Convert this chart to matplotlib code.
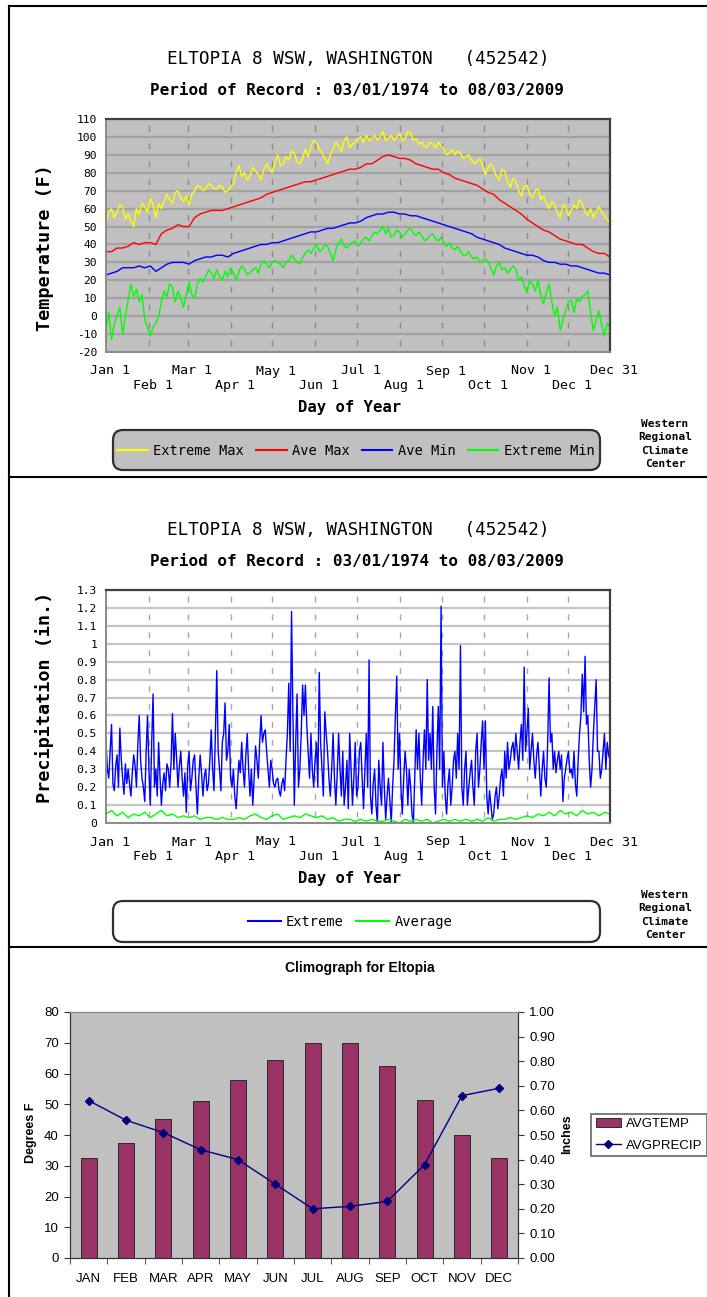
import numpy as np
import matplotlib
matplotlib.use("Agg")
import matplotlib.pyplot as plt
import matplotlib.transforms as mtransforms
from matplotlib.lines import Line2D
from matplotlib.patches import FancyBboxPatch, Patch

# DATOS
# extremos de temperatura cada ~2 dias, medias cada ~4 dias, precipitacion extrema diaria

EXT_MAX = [52, 58, 60, 55, 58, 62, 61, 54, 57, 53, 50, 60, 57, 63, 61, 58, 66, 62, 55, 63,
           60, 64, 68, 65, 63, 69, 70, 66, 64, 67, 62, 68, 70, 73, 72, 70, 71, 74, 73, 71,
           71, 73, 72, 69, 70, 72, 74, 80, 84, 78, 80, 76, 78, 83, 81, 79, 76, 82, 85, 82,
           80, 86, 90, 84, 85, 89, 87, 92, 91, 86, 85, 88, 93, 89, 95, 98, 97, 93, 91, 88,
           85, 90, 93, 97, 95, 92, 98, 100, 94, 96, 97, 99, 100, 97, 101, 98, 99, 101, 98, 100,
           103, 98, 99, 101, 98, 100, 102, 98, 99, 103, 102, 98, 99, 96, 97, 95, 94, 97, 96, 94,
           97, 95, 93, 90, 91, 93, 90, 92, 91, 88, 89, 90, 87, 85, 86, 88, 84, 79, 83, 85,
           82, 78, 76, 82, 81, 75, 72, 77, 75, 70, 67, 72, 73, 68, 66, 70, 71, 65, 67, 63,
           60, 64, 62, 58, 55, 62, 61, 56, 59, 62, 60, 65, 63, 58, 56, 60, 55, 58, 61, 58,
           56, 54, 52]
AVE_MAX = [36, 36, 38, 38, 39, 41, 40, 41, 41, 40, 46, 48, 49, 51, 50, 50, 55, 57, 58, 59,
           59, 59, 60, 61, 62, 63, 64, 65, 66, 68, 69, 70, 71, 72, 73, 74, 75, 75, 76, 77,
           78, 79, 80, 81, 82, 82, 83, 85, 85, 87, 89, 90, 89, 88, 88, 87, 85, 84, 83, 82,
           82, 80, 79, 77, 76, 75, 74, 73, 71, 69, 68, 65, 63, 61, 59, 57, 54, 52, 50, 48,
           47, 45, 43, 42, 41, 40, 40, 38, 36, 35, 35, 33]
AVE_MIN = [23, 24, 25, 27, 27, 27, 28, 27, 28, 25, 27, 29, 30, 30, 30, 29, 31, 32, 33, 33,
           34, 34, 33, 35, 36, 37, 38, 39, 40, 40, 41, 41, 42, 43, 44, 45, 46, 47, 47, 48,
           49, 49, 50, 51, 52, 52, 53, 55, 56, 57, 57, 58, 58, 57, 57, 56, 56, 55, 54, 53,
           52, 51, 50, 49, 48, 47, 46, 44, 43, 42, 41, 40, 38, 37, 36, 35, 34, 34, 33, 31,
           30, 30, 29, 29, 28, 28, 27, 26, 25, 24, 24, 23]
EXT_MIN = [-8, 2, -13, -4, 0, 5, -10, 0, 9, 18, 11, 15, 8, 12, -2, -6, -11, -6, -4, 0,
           8, 14, 11, 18, 16, 8, 14, 10, 5, 12, 19, 12, 10, 18, 21, 19, 22, 26, 24, 21,
           26, 22, 20, 25, 22, 27, 24, 20, 25, 28, 26, 23, 24, 26, 27, 24, 29, 31, 29, 27,
           30, 31, 30, 29, 27, 30, 31, 34, 32, 30, 29, 33, 35, 37, 35, 38, 40, 36, 37, 40,
           39, 35, 31, 37, 41, 43, 39, 38, 40, 41, 42, 39, 41, 43, 44, 42, 45, 47, 46, 48,
           50, 46, 49, 44, 45, 48, 47, 44, 46, 48, 49, 46, 45, 47, 45, 42, 43, 45, 46, 43,
           42, 44, 41, 39, 41, 38, 37, 39, 36, 34, 34, 36, 33, 32, 33, 30, 31, 32, 30, 27,
           23, 28, 30, 26, 27, 24, 26, 28, 26, 20, 22, 17, 13, 20, 18, 14, 20, 12, 7, 13,
           18, 8, 0, 5, -8, -2, 3, 8, 9, 2, 10, 8, 11, 12, 14, 2, -8, -2, 3, -5,
           -11, -4, -6]

PRECIP_EXT = [0.45, 0.30, 0.25, 0.40, 0.55, 0.22, 0.18, 0.32, 0.38, 0.20, 0.53, 0.36, 0.25, 0.16, 0.33, 0.22,
              0.30, 0.22, 0.15, 0.28, 0.38, 0.32, 0.20, 0.44, 0.60, 0.35, 0.25, 0.20, 0.12, 0.40, 0.60, 0.30,
              0.10, 0.45, 0.72, 0.20, 0.30, 0.15, 0.45, 0.26, 0.10, 0.22, 0.28, 0.18, 0.33, 0.30, 0.20, 0.34,
              0.61, 0.30, 0.50, 0.36, 0.20, 0.32, 0.40, 0.25, 0.15, 0.28, 0.06, 0.32, 0.40, 0.18, 0.25, 0.35,
              0.38, 0.20, 0.05, 0.25, 0.38, 0.28, 0.15, 0.26, 0.30, 0.18, 0.22, 0.35, 0.52, 0.30, 0.18, 0.50,
              0.85, 0.40, 0.30, 0.18, 0.45, 0.50, 0.67, 0.35, 0.40, 0.55, 0.25, 0.20, 0.30, 0.15, 0.08, 0.22,
              0.35, 0.28, 0.45, 0.30, 0.20, 0.38, 0.50, 0.30, 0.15, 0.30, 0.10, 0.25, 0.43, 0.35, 0.25, 0.45,
              0.60, 0.45, 0.50, 0.52, 0.40, 0.30, 0.20, 0.35, 0.30, 0.22, 0.20, 0.24, 0.25, 0.18, 0.15, 0.22,
              0.25, 0.18, 0.35, 0.50, 0.78, 0.40, 1.18, 0.60, 0.10, 0.45, 0.72, 0.20, 0.30, 0.50, 0.77, 0.60,
              0.77, 0.55, 0.40, 0.25, 0.50, 0.30, 0.20, 0.35, 0.45, 0.20, 0.84, 0.45, 0.30, 0.15, 0.62, 0.50,
              0.40, 0.25, 0.15, 0.30, 0.50, 0.25, 0.10, 0.28, 0.50, 0.30, 0.15, 0.40, 0.10, 0.20, 0.35, 0.08,
              0.50, 0.30, 0.10, 0.25, 0.45, 0.15, 0.20, 0.40, 0.45, 0.25, 0.08, 0.30, 0.50, 0.20, 0.91, 0.15,
              0.05, 0.22, 0.30, 0.10, 0.00, 0.35, 0.20, 0.10, 0.45, 0.20, 0.02, 0.15, 0.25, 0.12, 0.00, 0.20,
              0.35, 0.60, 0.82, 0.30, 0.50, 0.20, 0.05, 0.25, 0.40, 0.30, 0.10, 0.30, 0.20, 0.05, 0.00, 0.25,
              0.52, 0.30, 0.50, 0.25, 0.10, 0.35, 0.52, 0.30, 0.80, 0.35, 0.50, 0.30, 0.65, 0.20, 0.05, 0.40,
              0.65, 0.30, 1.21, 0.20, 0.40, 0.15, 0.05, 0.22, 0.30, 0.10, 0.20, 0.35, 0.40, 0.25, 0.50, 0.30,
              0.99, 0.20, 0.10, 0.30, 0.40, 0.10, 0.20, 0.28, 0.35, 0.20, 0.10, 0.40, 0.50, 0.20, 0.30, 0.45,
              0.57, 0.30, 0.57, 0.15, 0.05, 0.18, 0.10, 0.02, 0.05, 0.15, 0.20, 0.08, 0.15, 0.25, 0.30, 0.15,
              0.40, 0.25, 0.45, 0.30, 0.35, 0.42, 0.45, 0.35, 0.50, 0.40, 0.30, 0.45, 0.55, 0.35, 0.87, 0.40,
              0.50, 0.64, 0.30, 0.40, 0.50, 0.35, 0.25, 0.38, 0.45, 0.30, 0.15, 0.30, 0.40, 0.25, 0.20, 0.45,
              0.81, 0.45, 0.50, 0.30, 0.40, 0.28, 0.35, 0.40, 0.30, 0.38, 0.12, 0.25, 0.30, 0.36, 0.40, 0.28,
              0.30, 0.25, 0.40, 0.22, 0.15, 0.35, 0.50, 0.60, 0.83, 0.62, 0.93, 0.55, 0.60, 0.35, 0.20, 0.30,
              0.50, 0.65, 0.80, 0.40, 0.40, 0.25, 0.30, 0.40, 0.50, 0.30, 0.45, 0.38, 0.35]
PRECIP_AVE = [0.05, 0.07, 0.04, 0.06, 0.03, 0.05, 0.04, 0.06,
              0.03, 0.05, 0.07, 0.04, 0.05, 0.03, 0.04, 0.03,
              0.04, 0.02, 0.03, 0.03, 0.02, 0.03, 0.02, 0.02,
              0.03, 0.02, 0.04, 0.05, 0.03, 0.02, 0.04, 0.05,
              0.02, 0.03, 0.04, 0.03, 0.05, 0.04, 0.03, 0.04,
              0.02, 0.03, 0.01, 0.02, 0.02, 0.01, 0.02, 0.01,
              0.02, 0.01, 0.01, 0.02, 0.01, 0.00, 0.02, 0.01,
              0.02, 0.01, 0.02, 0.00, 0.01, 0.02, 0.01, 0.02,
              0.01, 0.02, 0.01, 0.02, 0.01, 0.03, 0.01, 0.02,
              0.02, 0.03, 0.02, 0.03, 0.04, 0.03, 0.05, 0.04,
              0.06, 0.04, 0.07, 0.05, 0.06, 0.04, 0.07, 0.05,
              0.06, 0.04, 0.06, 0.05]

MES_DIAS = [1, 32, 60, 91, 121, 152, 182, 213, 244, 274, 305, 335, 365]
MES_ETIQ = ["Jan 1", "\nFeb 1", "Mar 1", "\nApr 1", "May 1", "\nJun 1", "Jul 1",
            "\nAug 1", "Sep 1", "\nOct 1", "Nov 1", "\nDec 1", "Dec 31"]

MESES = ["JAN", "FEB", "MAR", "APR", "MAY", "JUN", "JUL", "AUG", "SEP", "OCT", "NOV", "DEC"]
AVGTEMP = [32.5, 37.5, 45.3, 51.0, 58.0, 64.5, 70.0, 69.8, 62.5, 51.3, 40.0, 32.5]
AVGPRECIP = [0.64, 0.56, 0.51, 0.44, 0.40, 0.30, 0.20, 0.21, 0.23, 0.38, 0.66, 0.69]

TITULO = "ELTOPIA 8 WSW, WASHINGTON   (452542)"
SUBTITULO = "Period of Record : 03/01/1974 to 08/03/2009"

MONO = "DejaVu Sans Mono"
ARIAL = "Liberation Sans"

# FIGURA (coordenadas en pixeles de la imagen)

W, H = 707, 1297
fig = plt.figure(figsize=(W / 100, H / 100), dpi=100)


def fx(px):
    return px / W


def fy(py):
    return 1 - py / H


def caja(l, t, r, b):
    return [fx(l), fy(b), fx(r) - fx(l), fy(t) - fy(b)]


def linea_fig(xs, ys, lw=1.5):
    fig.add_artist(Line2D([fx(x) for x in xs], [fy(y) for y in ys],
                          transform=fig.transFigure, color="black", lw=lw))


def panel_wrcc(ax, ylim, yticks, yetiq, fondo, col_grid, col_dash):
    ax.set_facecolor(fondo)
    ax.set_xlim(1, 365)
    ax.set_ylim(*ylim)
    ax.set_yticks(yticks)
    ax.set_yticklabels(yetiq, family=MONO, fontsize=8.1)
    ax.set_xticks(MES_DIAS)
    ax.set_xticklabels(MES_ETIQ, family=MONO, fontsize=9.6, linespacing=1.15)
    ax.tick_params(axis="x", length=0, pad=9)
    ax.tick_params(axis="y", length=0, pad=6.5)
    desplaza = mtransforms.ScaledTranslation(4 / 100, 0, fig.dpi_scale_trans)
    for t in ax.get_xticklabels():
        t.set_transform(t.get_transform() + desplaza)
    ax.set_axisbelow(True)
    ax.yaxis.grid(True, color=col_grid, lw=1.6)
    for d in MES_DIAS[1:-1]:
        ax.axvline(d, color=col_dash, lw=1.0, linestyle=(8.6, (4.3, 8.6)), zorder=0.5)
    for lado in ["top", "right"]:
        ax.spines[lado].set_color("#404040")
        ax.spines[lado].set_linewidth(1.6)
    for lado in ["left", "bottom"]:
        ax.spines[lado].set_color("#8a8a8a")
        ax.spines[lado].set_linewidth(1.4)


def cabecera(y_tit, y_sub):
    fig.text(fx(358), fy(y_tit), TITULO, ha="center", va="center", family=MONO, fontsize=12.7)
    fig.text(fx(357), fy(y_sub), SUBTITULO, ha="center", va="center", family=MONO,
             fontsize=11.5, fontweight="bold")


def wrcc(y_centro):
    fig.text(fx(665), fy(y_centro), "Western\nRegional\nClimate\nCenter", ha="center",
             va="center", family=MONO, fontsize=8, fontweight="bold", linespacing=1.45)


def caja_leyenda(t, b, fondo):
    # caja redondeada detras de la leyenda (zorder bajo para no taparla)
    fig.add_artist(FancyBboxPatch((fx(113), fy(b)), fx(600) - fx(113), fy(t) - fy(b),
                                  boxstyle="round,pad=0,rounding_size=0.014",
                                  mutation_aspect=W / H, transform=fig.transFigure,
                                  facecolor=fondo, edgecolor="#303030", lw=1.6, zorder=-1))


# MARCOS
linea_fig([9, 707], [6, 6])
linea_fig([9, 9], [6, 1297])
linea_fig([9, 707], [477, 477])
linea_fig([9, 707], [947, 947])

# PANEL 1: TEMPERATURA

ax1 = fig.add_axes(caja(106, 119, 610, 352))
panel_wrcc(ax1, (-20, 110), list(range(-20, 111, 10)), [str(v) for v in range(-20, 111, 10)],
           "#c0c0c0", "#a2a2a2", "#8c8c8c")
series_t = [(EXT_MAX, "#ffff00", "Extreme Max"), (AVE_MAX, "#ff0000", "Ave Max"),
            (AVE_MIN, "#0000ff", "Ave Min"), (EXT_MIN, "#00ff00", "Extreme Min")]
for valores, color, nombre in series_t:
    ax1.plot(np.linspace(1, 365, len(valores)), valores, color=color, lw=1.0)

cabecera(59, 90)
fig.text(fx(45), fy(248), "Temperature (F)", rotation=90, ha="center", va="center",
         family=MONO, fontsize=13.3, fontweight="bold")
fig.text(fx(350), fy(408), "Day of Year", ha="center", va="center", family=MONO,
         fontsize=11.2, fontweight="bold")
caja_leyenda(430, 470, "#c0c0c0")
ax1.legend([Line2D([], [], color=c, lw=1.5) for _, c, _ in series_t],
           [n for _, _, n in series_t], loc="center",
           bbox_to_anchor=(fx(356), fy(451)), bbox_transform=fig.transFigure, ncol=4,
           frameon=False, prop={"family": MONO, "size": 9.9}, handlelength=2.2,
           handletextpad=0.4, columnspacing=0.9)
wrcc(444)

# PANEL 2: PRECIPITACION

ax2 = fig.add_axes(caja(106, 590, 610, 823))
p_ticks = [round(0.1 * i, 1) for i in range(14)]
p_etiq = ["0", "0.1", "0.2", "0.3", "0.4", "0.5", "0.6", "0.7", "0.8", "0.9", "1", "1.1",
          "1.2", "1.3"]
panel_wrcc(ax2, (0, 1.3), p_ticks, p_etiq, "white", "#c4c4c4", "#a8a8a8")
ax2.plot(np.linspace(1, 365, len(PRECIP_EXT)), PRECIP_EXT, color="#0000ff", lw=1.0)
ax2.plot(np.linspace(1, 365, len(PRECIP_AVE)), PRECIP_AVE, color="#00ff00", lw=1.0)

cabecera(530, 561)
fig.text(fx(45), fy(697), "Precipitation (in.)", rotation=90, ha="center", va="center",
         family=MONO, fontsize=13.3, fontweight="bold")
fig.text(fx(350), fy(879), "Day of Year", ha="center", va="center", family=MONO,
         fontsize=11.2, fontweight="bold")
caja_leyenda(901, 942, "white")
ax2.legend([Line2D([], [], color="#0000ff", lw=1.5), Line2D([], [], color="#00ff00", lw=1.5)],
           ["Extreme", "Average"], loc="center", bbox_to_anchor=(fx(350), fy(922)),
           bbox_transform=fig.transFigure, ncol=2, frameon=False,
           prop={"family": MONO, "size": 9.9}, handlelength=2.4, handletextpad=0.4,
           columnspacing=0.9)
wrcc(915)

# PANEL 3: CLIMOGRAMA

ax3 = fig.add_axes(caja(70, 1012, 518, 1258))
x = np.arange(len(MESES))
ax3.set_facecolor("#c0c0c0")
ax3.bar(x, AVGTEMP, width=0.43, color="#993366", edgecolor="#2a2a2a", lw=0.7)
ax3.set_xlim(-0.5, 11.5)
ax3.set_ylim(0, 80)
ax3.set_yticks(range(0, 81, 10))
ax3.set_yticklabels([str(v) for v in range(0, 81, 10)], family=ARIAL, fontsize=9.5)
ax3.set_xticks(x)
ax3.set_xticklabels(MESES, family=ARIAL, fontsize=9.5)
ax3.set_xticks(np.arange(-0.5, 12, 1), minor=True)
ax3.tick_params(axis="x", which="major", length=0, pad=11)
ax3.tick_params(axis="x", which="minor", length=4, direction="out", color="#333333")
ax3.tick_params(axis="y", length=4, direction="out", color="#333333", pad=4)

ax3b = ax3.twinx()
ax3b.plot(x, AVGPRECIP, color="#000080", lw=1.0, marker="D", markersize=4)
ax3b.set_ylim(0, 1.0)
ax3b.set_yticks([round(0.1 * i, 1) for i in range(11)])
ax3b.set_yticklabels(["%.2f" % (0.1 * i) for i in range(11)], family=ARIAL, fontsize=9.5)
ax3b.tick_params(axis="y", length=4, direction="out", color="#333333", pad=4)

for a in (ax3, ax3b):
    for lado in ["left", "bottom", "right"]:
        a.spines[lado].set_color("#333333")
    a.spines["top"].set_color("#8a8a8a")

fig.text(fx(360), fy(968), "Climograph for Eltopia", ha="center", va="center",
         family=ARIAL, fontsize=10, fontweight="bold")
fig.text(fx(31), fy(1133), "Degrees F", rotation=90, ha="center", va="center",
         family=ARIAL, fontsize=9, fontweight="bold")
fig.text(fx(567), fy(1134), "Inches", rotation=90, ha="center", va="center",
         family=ARIAL, fontsize=9, fontweight="bold")

leg = ax3b.legend([Patch(facecolor="#993366", edgecolor="#2a2a2a", lw=0.7),
                   Line2D([], [], color="#000080", lw=1.0, marker="D", markersize=4)],
                  ["AVGTEMP", "AVGPRECIP"], loc="center", bbox_to_anchor=(fx(649), fy(1135)),
                  bbox_transform=fig.transFigure, frameon=True, fancybox=False,
                  prop={"family": ARIAL, "size": 9.5}, handlelength=1.9, handletextpad=0.4,
                  borderpad=0.35, labelspacing=0.7, borderaxespad=0)
leg.get_frame().set_edgecolor("#404040")
leg.get_frame().set_linewidth(1.2)

fig.savefig("out.png", dpi=100)
